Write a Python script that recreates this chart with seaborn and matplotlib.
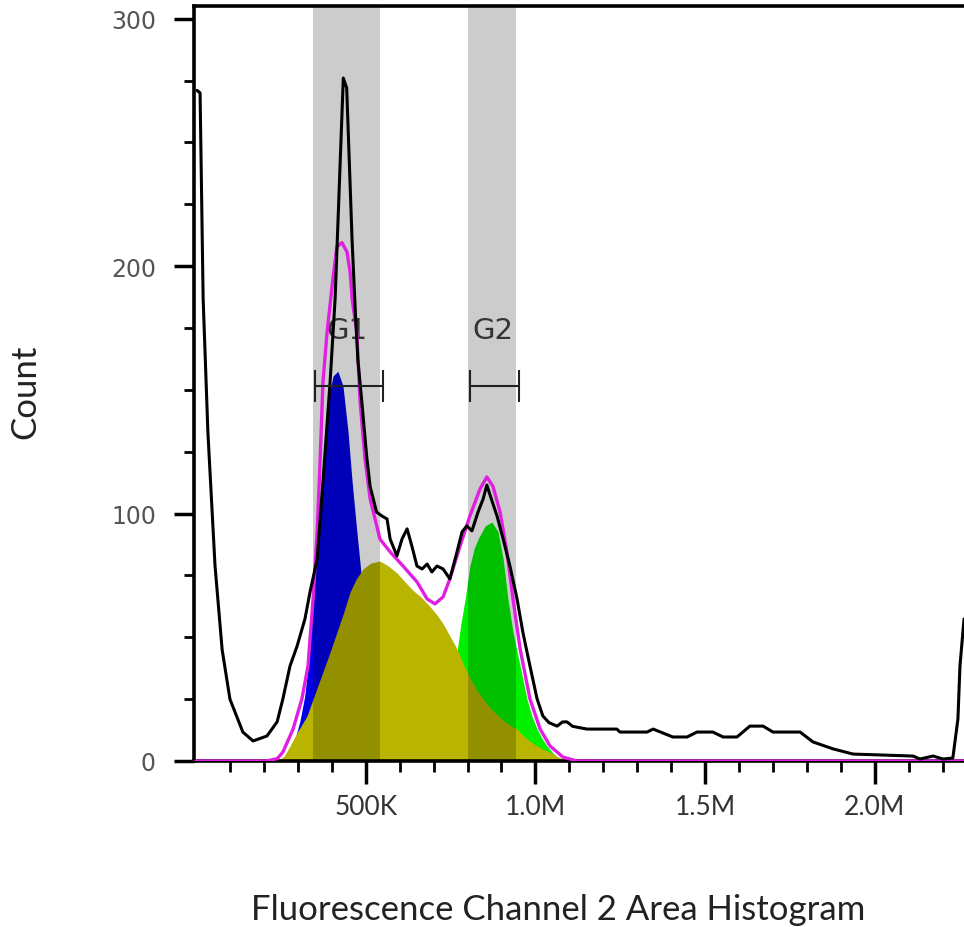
import numpy as np
import pandas as pd
import matplotlib
matplotlib.use("Agg")
import matplotlib.pyplot as plt
from matplotlib import font_manager as fm
import seaborn as sns

# ---------------- data ----------------
# x values in thousands (K), counts on y
hist_x = [3, 12, 21, 35, 56, 77, 100, 138, 168, 209, 239, 256, 277, 298, 321, 336, 357,
          374, 395, 410, 434, 444, 460, 470, 477, 488, 503, 513, 532, 548, 563, 572, 592,
          607, 622, 636, 651, 666, 681, 695, 710, 728, 748, 769, 784, 798, 813, 831, 846,
          857, 870, 887, 905, 925, 946, 963, 984, 1005, 1022, 1040, 1064, 1080, 1093, 1110,
          1152, 1240, 1249, 1329, 1347, 1405, 1447, 1476, 1523, 1553, 1594, 1632, 1671,
          1700, 1780, 1818, 1877, 1936, 2113, 2133, 2172, 2201, 2230, 2245, 2251, 2263]
hist_y = [271, 270, 187, 133, 79, 45, 25, 11.7, 8.1, 10.1, 15.8, 25.1, 38.4, 46.5, 57.4,
          68.3, 81.6, 112.8, 153, 187, 276, 272, 210, 180, 162, 146, 123, 111, 100.6, 99,
          97.8, 89.7, 82.9, 89.7, 93.8, 86.9, 78.8, 77.6, 79.6, 76.4, 78.8, 77.6, 73.6, 84.5,
          92.6, 95, 93, 100.6, 105.9, 111.5, 106, 99, 89.7, 78.8, 65.5, 52.1, 38.4, 25.1,
          18.2, 15.5, 14.1, 15.8, 15.8, 14, 12.9, 12.9, 11.7, 11.7, 12.9, 9.7, 9.7, 11.7,
          11.7, 9.7, 9.7, 14.1, 14.1, 11.7, 11.7, 7.7, 4.9, 2.8, 2.0, 0.8, 2.0, 0.8, 1.2,
          17, 38.4, 57.4]

fit_x = [0, 150, 209, 240, 256, 286, 312, 330, 345, 357, 365, 374, 386, 401, 415, 430,
         445, 454, 460, 474, 483, 498, 513, 542, 572, 610, 651, 681, 704, 728, 748, 778,
         807, 837, 857, 875, 896, 916, 934, 955, 984, 1014, 1043, 1081, 1123, 2270]
fit_y = [0, 0, 0, 1, 3.6, 12.9, 25.1, 38.4, 65.5, 92.6, 119, 153, 173, 192, 207.8, 209.5,
         205.7, 197.6, 186.7, 173, 146, 122, 106, 89.7, 84.5, 78.8, 72.4, 65.5, 63.5, 66.3,
         73.6, 86.9, 99, 110, 114.8, 111, 100.6, 84.5, 65.5, 45.3, 25.1, 12.9, 6.1, 1.6, 0, 0]

g1_x = [240, 260, 277, 292, 306, 320, 330, 345, 360, 374, 389, 404, 418, 433, 448, 460,
        474, 483, 500, 520, 550, 580, 610, 640]
g1_y = [0, 1, 4, 9, 16, 26, 38, 65.5, 92.6, 119, 146, 155.6, 157.5, 151.6, 133, 112.8,
        92.6, 80.4, 56, 32, 11, 3, 0.5, 0]

s_x = [200, 239, 260, 277, 300, 327, 350, 374, 395, 415, 435, 454, 472, 492, 515, 542,
       565, 592, 615, 639, 665, 689, 710, 728, 750, 769, 790, 810, 830, 846, 870, 900,
       925, 946, 970, 1000, 1020, 1043, 1065, 1093, 1120]
s_y = [0, 0, 2, 6.1, 12, 18.2, 27, 36, 44, 52, 60, 68.3, 73.5, 77.6, 80, 80.8, 79, 76,
       72.5, 69, 66, 62.5, 59, 55.5, 50, 45.3, 38.5, 33, 28, 25.1, 21, 17, 14.5, 12.9,
       9.5, 6.5, 5, 3.6, 1.8, 0, 0]

g2_x = [680, 720, 750, 770, 780, 793, 807, 820, 831, 852, 872, 890, 905, 919, 934, 955,
        975, 990, 1005, 1020, 1034, 1050, 1064, 1081, 1100]
g2_y = [5, 15, 30, 45, 55, 65.5, 78.8, 86, 89.7, 95, 96.6, 92.6, 81.6, 65.5, 52.1, 38.4,
        25.1, 18, 12.9, 9, 6.1, 3.5, 1.6, 0, 0]

gate_names = ["G1", "G2"]
gate_band_lo = [345, 801]
gate_band_hi = [542, 943]
gate_bar_lo = [351, 807]
gate_bar_hi = [551, 952]
gate_label_x = [445, 875]
gate_bar_y = 151.6
gate_label_y = 174

x_major = [500, 1000, 1500, 2000]
x_major_labels = ["500K", "1.0M", "1.5M", "2.0M"]
y_major = [0, 100, 200, 300]

# ---------------- style ----------------
sns.set_theme(style="white")


def has_font(name):
    try:
        fm.findfont(fm.FontProperties(family=name), fallback_to_default=False)
        return True
    except Exception:
        return False


if has_font("Liberation Sans Narrow"):
    narrow = "Liberation Sans Narrow"
elif has_font("Lato"):
    narrow = "Lato"
else:
    narrow = "Liberation Sans"
plt.rcParams["font.family"] = ["DejaVu Sans"]

fig = plt.figure(figsize=(9.64, 9.28), dpi=100)
ax = fig.add_axes([194 / 964, 166 / 928, 770 / 964, 754.7 / 928])

K = 1000.0
# fills: G1, G2, then S on top
ax.fill_between(np.array(g1_x) * K, 0, g1_y, color="#0000e6", lw=0, zorder=1)
ax.fill_between(np.array(g2_x) * K, 0, g2_y, color="#00f000", lw=0, zorder=1.1)
ax.fill_between(np.array(s_x) * K, 0, s_y, color="#b8b400", lw=0, zorder=1.2)

# gate bands (darkening overlay)
for lo, hi in zip(gate_band_lo, gate_band_hi):
    ax.axvspan(lo * K, hi * K, color="black", alpha=0.2, lw=0, zorder=2)

fit_df = pd.DataFrame({"x": np.array(fit_x) * K, "y": fit_y})
hist_df = pd.DataFrame({"x": np.array(hist_x) * K, "y": hist_y})
sns.lineplot(data=fit_df, x="x", y="y", ax=ax, color="#e020e0", lw=2.4, zorder=3,
             sort=False, estimator=None)
sns.lineplot(data=hist_df, x="x", y="y", ax=ax, color="black", lw=2.2, zorder=3.5,
             sort=False, estimator=None)

# gate markers
for name, lo, hi, lx in zip(gate_names, gate_bar_lo, gate_bar_hi, gate_label_x):
    c = (lo + hi) / 2 * K
    ax.errorbar([c], [gate_bar_y], xerr=[(hi - lo) / 2 * K], fmt="none", ecolor="#222222",
                elinewidth=1.5, capsize=11.5, capthick=1.5, zorder=4)
    ax.text(lx * K, gate_label_y, name, ha="center", va="center", fontsize=21,
            color="#333333", zorder=2.5, family="DejaVu Sans")

ax.set_xlim(-5.9 * K, 2262.9 * K)
ax.set_ylim(0, 305)

ax.set_xticks([v * K for v in x_major])
ax.set_xticklabels(x_major_labels)
ax.set_xticks([v * K for v in range(100, 2300, 100) if v % 500 != 0], minor=True)
ax.set_yticks(y_major)
ax.set_yticks([v for v in range(25, 305, 25) if v % 100 != 0], minor=True)

for s in ["left", "bottom", "top"]:
    ax.spines[s].set_visible(True)
    ax.spines[s].set_color("black")
    ax.spines[s].set_linewidth(2.6)
ax.spines["right"].set_visible(False)

ax.tick_params(axis="x", which="major", direction="out", length=16.5, width=2.5,
               color="black", pad=7, labelsize=19, labelcolor="#333333", bottom=True)
ax.tick_params(axis="x", which="minor", direction="out", length=8, width=2,
               color="black", bottom=True)
ax.tick_params(axis="y", which="major", direction="out", length=14.4, width=2.5,
               color="black", pad=13, labelsize=17, labelcolor="#555555", left=True)
ax.tick_params(axis="y", which="minor", direction="out", length=7.2, width=2,
               color="black", left=True)
for lab in ax.get_xticklabels():
    lab.set_family([narrow, "DejaVu Sans"])
for lab in ax.get_yticklabels():
    lab.set_family(["DejaVu Sans"])

ax.set_xlabel("")
ax.set_ylabel("")
ax.grid(False)
ax.set_facecolor("white")

fig.text(558 / 964, (928 - 910) / 928, "Fluorescence Channel 2 Area Histogram",
         ha="center", va="center", fontsize=25, color="#222222", family=[narrow, "DejaVu Sans"])
fig.text(25 / 964, (928 - 392) / 928, "Count", rotation=90, ha="center", va="center",
         fontsize=25, color="#222222", family=[narrow, "DejaVu Sans"])

fig.savefig("out.png", dpi=100, facecolor="white")
